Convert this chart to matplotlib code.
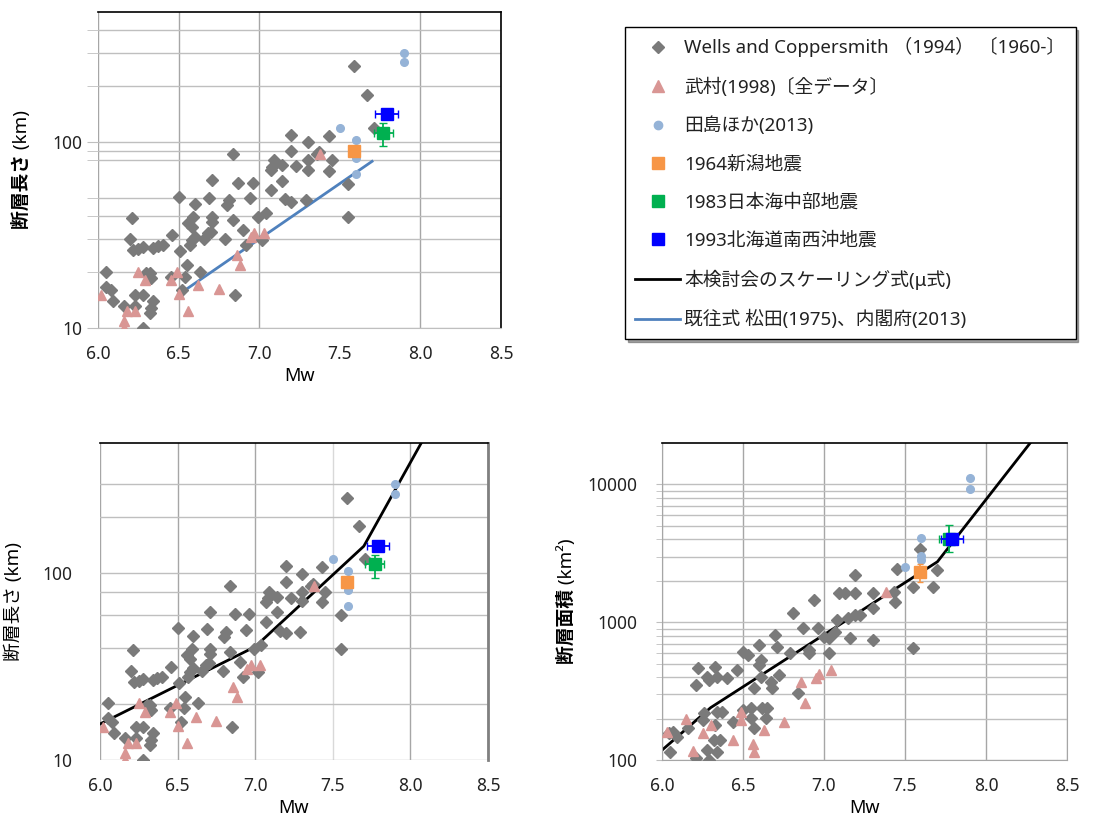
import numpy as np
import matplotlib.pyplot as plt
from matplotlib.lines import Line2D
from matplotlib.ticker import FixedLocator, NullFormatter

plt.rcParams['font.family'] = ['Noto Sans', 'Noto Sans CJK JP', 'DejaVu Sans']

# Wells and Coppersmith (1994): Mw vs rupture length (km)
wc_mw = [6.05, 6.05, 6.08, 6.09, 6.16, 6.21, 6.20, 6.22, 6.25, 6.28, 6.34, 6.37, 6.40, 6.23, 6.28,
         6.23, 6.28, 6.32, 6.30, 6.33, 6.34, 6.33, 6.32, 6.46, 6.50, 6.51, 6.55, 6.54, 6.45, 6.52,
         6.60, 6.59, 6.56, 6.58, 6.58, 6.60, 6.57, 6.63, 6.69, 6.71, 6.71, 6.71, 6.68, 6.66, 6.70,
         6.79, 6.81, 6.80, 6.84, 6.84, 6.85, 6.87, 6.90, 6.92, 6.94, 6.96, 6.99, 7.02, 7.04, 7.07,
         7.07, 7.09, 7.08, 7.14, 7.14, 7.16, 7.20, 7.20, 7.20, 7.23, 7.29, 7.30, 7.30, 7.30, 7.37,
         7.36, 7.43, 7.43, 7.45, 7.55, 7.55, 7.59, 7.67, 7.71]
wc_len = [20.1, 16.7, 16.0, 13.9, 13.1, 38.8, 30.0, 26.3, 26.5, 27.2, 27.0, 27.6, 28.0, 15.1, 15.1,
          13.1, 10.0, 19.8, 19.8, 18.5, 13.9, 12.8, 12.0, 31.6, 50.7, 26.0, 21.8, 18.9, 18.9, 16.0,
          46.4, 39.6, 36.5, 35.0, 29.7, 31.0, 27.9, 20.1, 50.1, 62.3, 39.6, 37.2, 32.3, 30.0, 33.0,
          30.0, 48.7, 45.8, 38.0, 85.9, 15.1, 60.3, 33.6, 27.9, 49.7, 60.3, 39.6, 29.7, 41.3, 55.1,
          70.5, 79.8, 73.5, 75.0, 62.0, 49.1, 47.8, 109, 89.5, 74.0, 48.7, 99.5, 79.8, 71.0, 88.0,
          86.0, 108, 70.0, 80.0, 59.8, 39.6, 255, 180, 119]

# Wells and Coppersmith (1994): Mw vs rupture area (km2)
wc_mw_a = [6.05, 6.04, 6.07, 6.09, 6.16, 6.21, 6.22, 6.21, 6.25, 6.26, 6.28, 6.29, 6.28, 6.29, 6.32,
           6.33, 6.34, 6.34, 6.34, 6.37, 6.36, 6.33, 6.40, 6.44, 6.46, 6.50, 6.53, 6.50, 6.55, 6.55,
           6.57, 6.57, 6.60, 6.60, 6.61, 6.61, 6.62, 6.64, 6.65, 6.67, 6.68, 6.70, 6.71, 6.72, 6.79,
           6.81, 6.84, 6.87, 6.91, 6.91, 6.94, 6.96, 7.00, 7.03, 7.03, 7.07, 7.08, 7.09, 7.13, 7.15,
           7.16, 7.19, 7.19, 7.19, 7.22, 7.30, 7.30, 7.30, 7.44, 7.43, 7.45, 7.55, 7.55, 7.59, 7.67,
           7.70]
wc_area = [115, 156, 161, 148, 170, 103, 463, 351, 195, 218, 403, 381, 118, 100, 140,
           476, 403, 115, 224, 224, 140, 180, 392, 190, 450, 612, 579, 231, 237, 201,
           332, 170, 684, 490, 532, 403, 237, 201, 237, 371, 332, 809, 666, 414, 595,
           1161, 305, 904, 629, 595, 1452, 904, 787, 595, 765, 855, 1040, 1623, 1623, 1071,
           765, 1130, 2207, 1623, 1130, 1623, 1260, 745, 1413, 1670, 2427, 1816, 647, 3390, 1816,
           2400]

# 武村 (1998)
tk_mw = [6.02, 6.16, 6.16, 6.18, 6.23, 6.25, 6.29, 6.45, 6.49, 6.50, 6.56, 6.62, 6.75, 6.86,
         6.88, 6.95, 6.97, 7.03, 7.38]
tk_len = [15.1, 10.9, 10.0, 12.3, 12.3, 20.1, 18.1, 18.1, 20.1, 15.3, 12.3, 17.1, 16.2, 24.7,
          21.8, 30.7, 32.3, 32.3, 85.9]
tk_mw_a = [6.03, 6.15, 6.19, 6.25, 6.30, 6.44, 6.49, 6.49, 6.56, 6.57, 6.63, 6.75, 6.86, 6.88,
           6.95, 6.97, 7.04, 7.38]
tk_area = [161, 197, 117, 156, 180, 140, 224, 195, 131, 115, 165, 190, 371, 258,
           392, 422, 450, 1670]

# 田島ほか (2013)
tj_mw = [7.50, 7.60, 7.60, 7.60, 7.90, 7.90]
tj_len = [119, 103, 82, 67, 301, 268]
tj_area = [2500, 4070, 3020, 2830, 11100, 9250]

# individual events: Mw, length, area (+ error ranges)
niigata_mw, niigata_len, niigata_area = 7.59, 90, 2300
niigata_area_err = 350
nihonkai_mw, nihonkai_len, nihonkai_area = 7.77, 112, 4050
nihonkai_mw_err = 0.06
nihonkai_len_err = [[17], [14]]
nihonkai_area_err = [[790], [1050]]
okushiri_mw, okushiri_len, okushiri_area = 7.79, 141, 4000
okushiri_mw_err = 0.07

# scaling relations
matsuda_mw = [6.55, 7.70]
matsuda_len = [16.2, 78.7]
scale_mw = [6.0, 7.0, 7.7, 8.07]
scale_len = [15.6, 40.5, 140, 500]
scale_mw_a = [6.0, 6.3, 7.7, 8.3]
scale_area = [118, 240, 2750, 22000]

c_wc = '#7a7a7a'
c_tk = '#d99694'
c_tj = '#95b3d7'
c_ni = '#f79646'
c_nh = '#00b050'
c_ok = '#0000ff'
c_ma = '#4f81bd'
grid_c = '#bfbfbf'

fig = plt.figure(figsize=(10.99, 8.23), dpi=100)


def draw_points(ax, wx, wy, tx, ty, cy, ni, nh, nh_err, ok, ni_err=None):
    ax.plot(wx, wy, 'D', color=c_wc, ms=5.8, zorder=3)
    ax.plot(tx, ty, '^', color=c_tk, ms=7.8, zorder=3)
    ax.plot(tj_mw, cy, 'o', color=c_tj, ms=5.5, zorder=3)
    ax.errorbar(niigata_mw, ni, yerr=ni_err, fmt='s', color=c_ni, ms=8.5,
                elinewidth=1.2, capsize=2, zorder=4)
    ax.errorbar(nihonkai_mw, nh, xerr=nihonkai_mw_err, yerr=nh_err, fmt='s', color=c_nh,
                ms=8.5, elinewidth=1.3, capsize=3, zorder=4)
    ax.errorbar(okushiri_mw, ok, xerr=okushiri_mw_err, fmt='s', color=c_ok,
                ms=9, elinewidth=1.3, capsize=3, zorder=5)


def style(ax, yticks, minor, ylim):
    ax.set_xlim(6.0, 8.5)
    ax.set_ylim(*ylim)
    ax.set_yscale('log')
    ax.set_xticks(np.arange(6.0, 8.51, 0.5))
    ax.set_xticklabels(['6.0', '6.5', '7.0', '7.5', '8.0', '8.5'])
    ax.yaxis.set_major_locator(FixedLocator(yticks))
    ax.set_yticklabels([str(v) for v in yticks])
    ax.yaxis.set_minor_locator(FixedLocator(minor))
    ax.yaxis.set_minor_formatter(NullFormatter())
    ax.grid(True, which='both', axis='y', color=grid_c, lw=1)
    ax.grid(True, axis='x', color='#a6a6a6', lw=1)
    ax.tick_params(axis='both', labelsize=12.5, colors='#222222')
    ax.tick_params(axis='x', length=0, pad=12)
    ax.set_xlabel('Mw', fontsize=13, labelpad=3)
    ax.set_axisbelow(True)


# top left: fault length with previous formula
ax1 = fig.add_axes([0.0892, 0.6015, 0.3667, 0.3839])
style(ax1, [10, 100], [20, 30, 40, 50, 80, 90, 200, 300, 400], (10, 500))
ax1.tick_params(axis='y', which='both', length=8, color=grid_c, pad=3)
ax1.get_xgridlines()[3].set_visible(False)
ax1.spines['left'].set_visible(False)
ax1.spines['bottom'].set_color(grid_c)
ax1.spines['top'].set_linewidth(1.2)
ax1.spines['right'].set_linewidth(1.2)
ax1.plot(matsuda_mw, matsuda_len, color=c_ma, lw=2, zorder=2)
draw_points(ax1, wc_mw, wc_len, tk_mw, tk_len, tj_len, niigata_len, nihonkai_len,
            nihonkai_len_err, okushiri_len, ni_err=[[6], [0]])
ax1.set_ylabel('断層長さ (km)', fontsize=13.5, fontweight='bold', labelpad=16)

# bottom left: fault length with the scaling relation
ax2 = fig.add_axes([0.091, 0.0765, 0.353, 0.3852])
style(ax2, [10, 100], [20, 40, 60, 80, 200, 300], (10, 500))
ax2.tick_params(axis='y', which='both', length=0, pad=20)
ax2.get_xgridlines()[3].set_color('#d9d9d9')
ax2.spines['left'].set_visible(False)
ax2.spines['bottom'].set_visible(False)
ax2.spines['right'].set_color('#808080')
ax2.spines['right'].set_linewidth(2)
ax2.spines['top'].set_linewidth(1.2)
ax2.plot(scale_mw, scale_len, color='black', lw=2, zorder=2)
draw_points(ax2, wc_mw, wc_len, tk_mw, tk_len, tj_len, niigata_len, nihonkai_len,
            nihonkai_len_err, okushiri_len, ni_err=[[6], [0]])
ax2.set_ylabel('断層長さ (km)', fontsize=13.5, labelpad=14)

# bottom right: fault area with the scaling relation
ax3 = fig.add_axes([0.6024, 0.0765, 0.3685, 0.3852])
area_minor = [m * d for d in [100, 1000, 10000] for m in range(2, 10) if m * d < 20000]
style(ax3, [100, 1000, 10000], area_minor, (100, 20000))
ax3.tick_params(axis='y', which='both', length=4, color=grid_c, pad=14)
for s in ['left', 'bottom', 'right']:
    ax3.spines[s].set_color('#a6a6a6')
ax3.spines['top'].set_linewidth(1.2)
ax3.plot(scale_mw_a, scale_area, color='black', lw=2, zorder=2)
draw_points(ax3, wc_mw_a, wc_area, tk_mw_a, tk_area, tj_area, niigata_area, nihonkai_area,
            nihonkai_area_err, okushiri_area, ni_err=niigata_area_err)
ax3.set_ylabel('断層面積 (km²)', fontsize=13.5, fontweight='bold', labelpad=8)

# shared legend
handles = [
    Line2D([], [], ls='none', marker='D', color=c_wc, ms=6),
    Line2D([], [], ls='none', marker='^', color=c_tk, ms=8),
    Line2D([], [], ls='none', marker='o', color=c_tj, ms=6),
    Line2D([], [], ls='none', marker='s', color=c_ni, ms=8.5),
    Line2D([], [], ls='none', marker='s', color=c_nh, ms=8.5),
    Line2D([], [], ls='none', marker='s', color=c_ok, ms=8.5),
    Line2D([], [], color='black', lw=2),
    Line2D([], [], color=c_ma, lw=2),
]
labels = [
    'Wells and Coppersmith （1994） 〔1960-〕',
    '武村(1998)〔全データ〕',
    '田島ほか(2013)',
    '1964新潟地震',
    '1983日本海中部地震',
    '1993北海道南西沖地震',
    '本検討会のスケーリング式(μ式)',
    '既往式 松田(1975)、内閣府(2013)',
]
leg = fig.legend(handles, labels, loc='upper left', bbox_to_anchor=(0.5687, 0.9672),
                 borderaxespad=0, fontsize=13.5, labelspacing=1.07, handlelength=2.4,
                 handletextpad=0.2, borderpad=0.55, fancybox=False, shadow=True,
                 edgecolor='black', framealpha=1)
leg.get_frame().set_linewidth(1)
for t in leg.get_texts():
    t.set_color('#222222')

plt.savefig('out.png', dpi=100)
